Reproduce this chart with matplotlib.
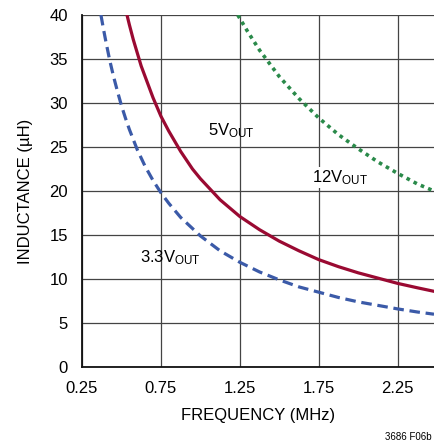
import matplotlib
matplotlib.use("Agg")
import matplotlib.pyplot as plt

plt.rcParams['font.family'] = ['Liberation Sans Narrow', 'Liberation Sans', 'DejaVu Sans']
plt.rcParams['mathtext.default'] = 'regular'

# values (frequency in MHz, inductance in uH)
f_5v = [0.535, 0.55, 0.575, 0.6, 0.625, 0.65, 0.7, 0.75, 0.8, 0.875, 0.95, 1.0,
        1.125, 1.25, 1.375, 1.5, 1.625, 1.75, 1.875, 2.0, 2.125, 2.25, 2.375, 2.48]
l_5v = [40.0, 38.9, 37.2, 35.7, 34.2, 33.0, 30.6, 28.5, 26.8, 24.5, 22.5, 21.4,
        19.0, 17.1, 15.6, 14.3, 13.2, 12.2, 11.4, 10.7, 10.1, 9.5, 9.0, 8.6]

f_33v = [0.37, 0.385, 0.4, 0.425, 0.45, 0.475, 0.5, 0.525, 0.55, 0.6, 0.65, 0.7,
         0.75, 0.8, 0.875, 1.0, 1.125, 1.25, 1.375, 1.5, 1.625, 1.75, 1.875,
         2.0, 2.125, 2.25, 2.375, 2.48]
l_33v = [40.0, 38.5, 37.1, 34.9, 33.0, 31.3, 29.7, 28.3, 27.0, 24.7, 22.8, 21.2,
         19.8, 18.6, 17.0, 14.9, 13.2, 11.9, 10.8, 9.9, 9.1, 8.5, 7.9,
         7.4, 7.0, 6.6, 6.25, 6.0]

f_12v = [1.237, 1.3, 1.375, 1.5, 1.625, 1.75, 1.875, 2.0, 2.125, 2.25, 2.375, 2.48]
l_12v = [40.0, 38.1, 36.0, 33.0, 30.5, 28.3, 26.4, 24.8, 23.3, 22.0, 20.8, 20.0]

xticks = [0.25, 0.75, 1.25, 1.75, 2.25]
xtick_labels = ['0.25', '0.75', '1.25', '1.75', '2.25']
yticks = [0, 5, 10, 15, 20, 25, 30, 35, 40]

fig = plt.figure(figsize=(4.34, 4.46), dpi=100)
ax = fig.add_axes([82/434, 1 - 367/446, 1 - 82/434, 352/446])

ax.plot(f_33v, l_33v, color='#3b5aa8', lw=2.3, linestyle=(0, (3.3, 1.8)), zorder=3)
ax.plot(f_5v, l_5v, color='#9a0a32', lw=2.3, zorder=3)
ax.plot(f_12v, l_12v, color='#2a8a4a', lw=2.6, linestyle=(0, (1.0, 1.2)), zorder=3)

ax.set_xlim(0.25, 2.48)
ax.set_ylim(0, 40)
ax.set_xticks(xticks)
ax.set_xticklabels(xtick_labels)
ax.set_yticks(yticks)
ax.tick_params(length=0, labelsize=12)
ax.tick_params(axis='x', pad=10)
ax.tick_params(axis='y', pad=10)
ax.grid(True, color='#444444', lw=0.9)
ax.set_axisbelow(True)

for s in ['top', 'right']:
    ax.spines[s].set_visible(False)
for s in ['left', 'bottom']:
    ax.spines[s].set_linewidth(1.3)
    ax.spines[s].set_color('#111111')

ax.set_xlabel('FREQUENCY (MHz)', fontsize=12, labelpad=9)
ax.set_ylabel('INDUCTANCE (µH)', fontsize=12, labelpad=12)

ax.text(1.05, 26.3, '5V$_{OUT}$', fontsize=12, zorder=4)
ax.text(1.71, 21.0, '12V$_{OUT}$', fontsize=12, zorder=4,
        bbox=dict(facecolor='white', edgecolor='none', pad=1))
ax.text(0.615, 11.9, '3.3V$_{OUT}$', fontsize=12, zorder=4)

fig.text(0.995, 0.01, '3686 F06b', fontsize=7, ha='right', va='bottom')

fig.savefig('out.png', dpi=100)
